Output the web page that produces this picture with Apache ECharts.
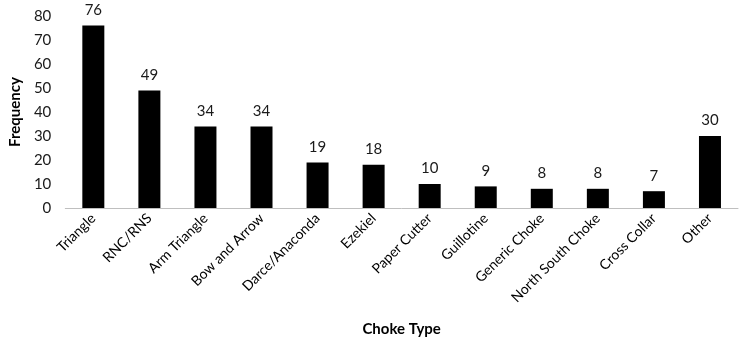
<!DOCTYPE html>
<html>
<head>
<meta charset="utf-8">
<script src="https://cdn.jsdelivr.net/npm/echarts@6/dist/echarts.min.js"></script>
<style>
  html, body { margin: 0; padding: 0; background: #fff; }
  #chart { width: 750px; height: 344px; }
</style>
</head>
<body>
<div id="chart"></div>
<script>
// choke types and how often each showed up
const chokeTypes = ['Triangle', 'RNC/RNS', 'Arm Triangle', 'Bow and Arrow', 'Darce/Anaconda', 'Ezekiel',
  'Paper Cutter', 'Guillotine', 'Generic Choke', 'North South Choke', 'Cross Collar', 'Other']
const frequency = [76, 49, 34, 34, 19, 18, 10, 9, 8, 8, 7, 30]
const yTicks = { min: 0, max: 80, step: 10 }

const font = 'Lato, "Open Sans", sans-serif'
const textColor = '#1a1a1a'

const myChart = echarts.init(document.getElementById('chart'))
const option = {
  animation: false,
  textStyle: { fontFamily: font },
  grid: {
    left: 62,
    right: 12,
    top: 16,
    bottom: 136
  },
  xAxis: {
    type: 'category',
    data: chokeTypes,
    name: 'Choke Type',
    nameLocation: 'middle',
    nameGap: 114,
    nameTextStyle: { fontFamily: font, fontSize: 15, fontWeight: 'bold', color: '#000' },
    axisLine: { lineStyle: { color: '#bfbfbf', width: 1 } },
    axisTick: { show: false },
    axisLabel: {
      interval: 0,
      rotate: 45,
      margin: 8,
      fontFamily: font,
      fontSize: 14,
      color: '#000'
    }
  },
  yAxis: {
    type: 'value',
    min: yTicks.min,
    max: yTicks.max,
    interval: yTicks.step,
    name: 'Frequency',
    nameLocation: 'middle',
    nameGap: 34,
    nameTextStyle: { fontFamily: font, fontSize: 15, fontWeight: 'bold', color: '#000' },
    axisLine: { show: false },
    axisTick: { show: false },
    splitLine: { show: false },
    axisLabel: {
      margin: 14,
      fontFamily: font,
      fontSize: 15,
      color: textColor
    }
  },
  series: [
    {
      type: 'bar',
      data: frequency,
      barWidth: 22,
      itemStyle: { color: '#000' },
      label: {
        show: true,
        position: 'top',
        distance: 8,
        fontFamily: font,
        fontSize: 15,
        color: textColor
      }
    }
  ]
}
myChart.setOption(option)
</script>
</body>
</html>
